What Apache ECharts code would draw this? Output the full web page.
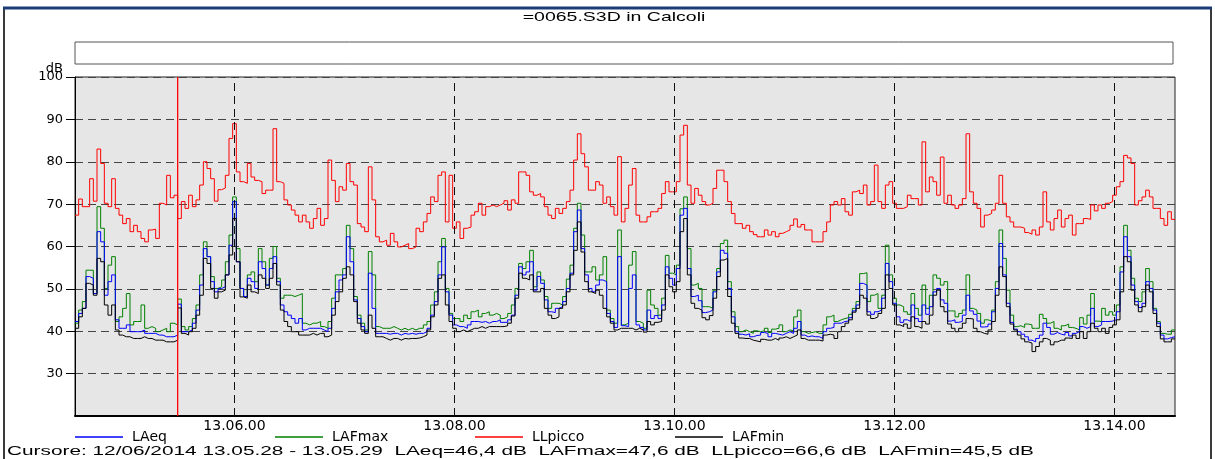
<!DOCTYPE html>
<html>
<head>
<meta charset="utf-8">
<script src="https://cdn.jsdelivr.net/npm/echarts@6/dist/echarts.min.js"></script>
<style>
html,body{margin:0;padding:0;background:#fff;}
#c{width:1215px;height:459px;}
</style>
</head>
<body>
<div id="c"></div>
<script>
// ---- data (2-second steps starting at 13.04.33) ----
const startTime = '13.04.33';
const endTime = '13.14.33';
const stepSeconds = 2;
const xTickLabels = ['13.06.00', '13.08.00', '13.10.00', '13.12.00', '13.14.00'];
const cursorTime = '13.05.29';
const seriesNames = ['LAeq', 'LAFmax', 'LLpicco', 'LAFmin'];

const LLpicco = [
67.4,71.2,69.4,69.4,76.0,70.7,83.0,79.6,70.2,69.4,
76.0,69.0,67.4,65.4,66.6,63.5,65.0,63.5,61.9,61.1,
63.9,64.1,61.9,70.2,69.8,76.8,71.5,72.1,66.6,70.6,
69.0,72.1,69.4,71.0,74.5,80.0,78.4,
76.0,70.7,73.4,73.8,76.8,85.5,89.0,77.6,75.3,74.9,
79.6,76.4,75.6,75.3,72.5,73.3,73.3,87.8,75.3,74.9,
71.0,69.8,68.6,67.4,65.8,67.4,65.8,64.3,66.6,69.0,
65.0,66.6,80.4,75.6,70.6,74.1,73.3,79.6,75.3,74.5,
65.4,64.6,63.5,78.8,71.0,62.3,61.1,61.5,60.3,63.1,
61.1,59.9,60.3,60.7,59.5,59.9,64.3,63.5,65.8,67.8,
71.7,70.6,76.8,77.6,65.8,76.8,64.3,65.8,61.9,64.3,
64.6,67.4,68.2,70.2,67.4,69.4,69.8,69.4,69.8,
70.2,70.8,68.6,71.0,70.2,77.6,77.6,76.8,72.9,72.1,
72.5,71.7,69.4,67.4,66.6,69.0,67.8,69.0,70.6,73.3,
80.4,86.6,81.9,78.8,73.3,73.3,75.3,74.5,70.2,71.7,
69.4,67.4,81.2,65.8,69.0,74.5,78.4,67.4,65.8,65.8,
67.0,68.2,68.2,69.0,72.5,75.3,72.9,72.9,75.3,86.3,
88.6,74.5,70.2,73.7,72.1,70.6,69.8,70.2,73.7,78.0,
78.0,75.3,70.6,67.8,65.4,65.4,64.3,65.0,63.5,62.8,
62.3,62.3,63.9,62.7,63.5,62.3,63.1,63.5,63.9,
65.0,66.5,64.6,65.2,63.9,63.9,61.1,61.1,61.1,63.5,
65.8,69.8,70.6,69.8,71.3,68.2,67.4,72.9,73.3,72.5,
74.5,69.8,70.6,79.2,70.6,69.0,74.5,75.3,70.2,69.0,
69.0,69.4,72.1,71.3,71.3,69.8,84.7,72.9,76.4,75.3,
72.1,81.1,70.2,72.1,69.8,69.0,69.8,71.3,86.6,72.9,
70.2,69.0,64.6,67.4,67.8,68.6,70.2,76.8,70.2,67.0,
65.8,64.6,64.6,64.3,63.3,62.9,63.9,62.7,64.6,72.9,
65.8,63.9,66.6,68.6,64.6,66.6,67.4,62.7,65.4,
65.4,66.6,66.4,69.8,68.4,69.8,69.0,70.2,70.6,72.1,
74.1,75.3,81.5,80.9,79.6,69.8,70.8,71.7,73.3,71.7,
69.0,69.0,66.6,65.0,68.2,66.4
];

const LAFmax = [
41.9,45.0,47.0,54.4,54.4,48.9,69.4,64.3,50.1,55.6,
57.6,42.3,43.4,45.4,48.9,41.5,42.3,42.3,46.2,40.7,
41.1,40.7,39.9,40.3,40.7,39.9,41.9,41.5,47.6,41.1,
40.3,41.1,43.0,46.2,53.3,61.1,57.6,
52.9,50.1,50.5,52.1,56.4,62.7,71.7,59.5,50.1,48.2,
53.3,54.0,51.7,59.5,56.4,50.9,57.2,60.0,52.5,47.8,
48.5,48.5,48.2,48.5,48.9,41.9,41.5,41.9,41.9,42.3,
41.1,40.7,42.3,47.8,53.3,53.3,54.8,65.0,59.5,48.2,
43.8,41.9,40.3,58.8,53.3,41.1,40.7,40.7,40.7,41.1,
40.7,40.3,40.7,40.3,40.7,40.3,40.7,40.7,41.5,42.3,
46.2,49.3,56.4,61.9,50.1,44.2,43.0,43.0,42.3,43.8,
43.0,44.6,45.0,43.4,44.2,44.6,43.8,44.2,43.8,
43.0,43.4,44.2,46.2,50.1,56.0,54.8,56.4,59.1,50.5,
54.0,52.1,48.2,45.4,46.6,46.6,46.2,48.2,52.3,55.6,
64.3,70.2,62.7,54.0,54.0,55.2,52.1,53.3,57.6,45.0,
43.0,41.9,63.9,41.5,41.9,55.6,58.8,42.3,41.9,40.7,
49.7,46.2,45.4,43.8,47.8,57.9,53.7,53.3,55.6,68.9,
71.7,59.5,50.9,51.3,50.1,45.8,45.8,45.4,49.7,54.8,
60.7,61.5,51.7,44.6,41.1,39.9,40.3,39.9,39.5,40.1,
39.9,40.1,40.7,39.7,40.5,40.7,41.5,39.9,40.3,
40.1,43.4,45.0,39.9,39.5,39.7,39.9,39.5,39.5,41.5,
43.4,43.8,42.3,42.7,43.0,43.2,44.0,45.4,47.0,53.6,
53.8,47.0,48.5,48.9,45.4,48.5,60.3,53.3,47.8,46.2,
45.8,44.6,44.0,48.9,45.4,43.8,50.9,45.4,48.5,53.3,
52.5,50.9,51.7,44.8,44.8,43.4,44.2,45.0,53.3,45.4,
45.0,44.2,41.9,42.7,42.4,45.0,51.7,63.9,57.2,49.7,
43.8,41.1,41.3,40.9,41.7,41.5,40.7,40.7,44.0,43.0,
41.9,42.3,40.7,40.3,41.3,41.7,40.9,40.7,40.3,
43.2,41.7,43.8,48.9,42.4,42.3,45.4,43.8,44.6,43.8,
46.2,55.2,65.0,59.1,52.5,47.8,47.0,49.3,54.8,51.7,
45.4,42.3,39.5,39.3,39.3,40.3
];

const LAeq = [
42.3,44.2,45.4,52.9,52.5,48.9,63.5,61.1,48.5,51.7,
53.3,42.7,40.7,40.7,41.5,39.9,39.9,39.9,40.3,39.5,
39.5,39.5,39.1,39.1,38.7,38.7,38.7,39.1,46.4,39.9,
39.9,40.3,41.9,45.0,50.9,59.5,57.6,
51.7,49.3,50.1,50.5,53.3,60.3,70.6,56.4,50.1,48.2,
52.5,51.7,50.1,56.4,54.8,50.9,54.8,57.6,51.7,46.2,
44.6,43.8,43.0,41.9,43.0,40.3,40.7,40.7,40.7,40.7,
40.3,39.9,40.7,45.4,49.3,52.1,53.3,62.3,56.4,47.4,
43.0,41.1,39.9,53.7,45.4,39.5,39.5,39.5,39.3,39.5,
39.5,39.1,39.5,39.3,39.5,39.3,39.5,39.5,39.9,40.7,
43.8,47.0,53.3,59.9,49.3,43.8,41.5,41.1,41.1,40.7,
41.5,42.3,42.3,42.1,42.3,41.9,42.3,42.3,42.7,
42.1,42.1,42.7,43.8,48.5,55.2,53.3,54.0,56.4,49.7,
52.9,51.3,47.4,44.6,44.4,45.4,45.8,47.0,50.1,53.7,
63.5,68.6,59.5,53.3,50.1,49.3,50.9,52.1,51.7,44.2,
42.3,40.9,57.6,41.3,41.1,50.1,53.3,41.5,40.9,40.3,
45.0,43.0,43.7,43.0,46.2,55.2,52.5,50.9,54.8,67.4,
69.0,54.8,48.2,48.5,47.2,44.4,44.6,45.0,49.3,54.0,
59.1,58.4,50.1,43.4,39.9,39.3,39.1,39.4,38.7,39.0,
39.1,39.7,39.5,38.7,39.5,39.3,39.1,39.5,39.9,
39.5,40.7,42.3,39.1,38.7,38.9,38.7,38.7,38.3,39.9,
40.7,40.9,41.9,41.9,42.3,42.4,43.2,44.8,46.2,51.3,
50.9,44.6,44.0,44.6,45.0,47.8,56.0,51.7,46.6,43.4,
42.1,42.7,42.3,46.2,43.0,42.3,46.2,44.0,45.8,49.3,
50.1,47.4,46.6,42.4,42.7,42.1,42.3,43.8,48.5,44.8,
44.0,42.4,41.0,41.1,41.7,44.6,50.1,60.7,53.3,46.6,
42.1,40.5,39.9,39.3,38.7,37.9,37.5,38.3,39.1,41.9,
40.9,39.3,39.7,39.3,39.1,39.7,38.9,39.5,39.9,
41.1,40.7,41.1,45.4,41.1,41.5,42.3,42.3,42.4,42.7,
44.6,54.0,62.3,57.6,50.9,47.0,45.6,46.6,51.7,50.1,
45.0,41.9,39.1,38.2,38.5,38.7
];

const LAFmin = [
40.7,43.4,45.4,51.3,50.9,48.5,57.2,56.4,46.2,43.8,
46.2,40.3,39.1,38.7,38.7,38.3,38.3,38.3,38.7,38.3,
38.3,37.9,37.9,37.9,37.5,37.5,37.5,37.9,45.5,39.5,
39.1,39.9,40.7,43.8,48.5,57.2,56.0,
50.1,47.8,49.3,49.7,53.3,58.0,66.6,56.4,48.1,47.8,
50.9,49.3,48.9,53.3,52.5,50.1,52.5,56.0,50.9,45.0,
42.3,41.1,39.9,39.9,39.1,39.1,39.1,39.5,39.1,39.5,
39.5,38.7,39.1,43.8,47.0,49.3,52.5,55.2,53.3,47.0,
41.9,40.3,39.5,43.8,40.7,38.7,38.7,38.3,37.9,38.3,
38.3,37.9,38.3,38.2,38.3,38.3,38.4,38.7,39.1,40.3,
43.4,46.2,52.5,53.3,46.2,42.3,40.7,39.9,40.3,39.9,
40.3,40.7,40.7,41.1,40.7,41.1,41.1,41.1,41.1,
41.1,41.3,41.9,43.6,47.8,53.7,52.5,52.1,53.3,49.3,
49.3,50.1,45.4,43.8,43.0,43.4,45.4,46.2,49.3,53.3,
59.1,65.8,58.7,51.7,49.3,48.9,49.7,48.5,45.4,43.4,
41.9,40.3,40.7,40.7,40.7,40.7,40.3,40.7,40.3,39.8,
42.3,41.5,42.1,42.3,45.0,53.3,50.5,49.3,51.7,63.5,
66.6,53.3,46.6,45.4,45.0,43.2,42.7,43.7,47.8,52.9,
56.8,57.2,48.2,41.9,39.5,38.4,38.3,38.3,37.9,37.7,
37.5,38.1,37.9,37.9,38.3,37.9,38.4,38.7,38.3,
38.7,39.1,40.3,38.3,37.9,37.9,37.9,37.9,37.7,39.1,
39.3,39.1,38.3,39.9,41.1,41.9,42.7,44.5,45.4,48.5,
47.8,43.8,43.0,43.4,44.2,45.4,53.3,50.1,46.2,41.5,
41.1,41.7,40.7,43.4,41.1,40.7,42.3,41.7,43.8,48.5,
49.7,45.8,44.6,41.7,40.7,39.9,40.7,41.9,43.0,42.9,
40.7,39.9,39.5,39.3,40.3,42.3,48.5,55.2,52.9,45.8,
41.7,40.3,39.1,38.2,37.5,37.2,35.2,36.4,37.5,38.3,
37.9,36.8,37.5,37.9,37.9,38.4,38.3,39.1,38.3,
39.9,38.3,39.9,41.9,40.7,39.9,40.7,39.5,40.9,41.5,
42.7,49.3,57.6,56.4,49.7,46.2,44.6,45.8,50.9,49.3,
44.2,41.1,38.2,37.5,37.5,38.2
];

const cursorText = 'Cursore: 12/06/2014 13.05.28 - 13.05.29  LAeq=46,4 dB  LAFmax=47,6 dB  LLpicco=66,6 dB  LAFmin=45,5 dB';
const chartTitle = '=0065.S3D in Calcoli';
const yMin = 20, yMax = 100, yStep = 10;

// ---- helpers ----
function toSec(s) {
  const p = s.split('.').map(Number);
  return (p[0] - 13) * 3600 + p[1] * 60 + p[2];
}
function fmt(v) {
  const h = 13 + Math.floor(v / 3600);
  const m = Math.floor((v % 3600) / 60);
  const s = Math.round(v % 60);
  const pad = n => (n < 10 ? '0' : '') + n;
  return h + '.' + pad(m) + '.' + pad(s);
}
const t0 = toSec(startTime);
const t1 = toSec(endTime);
function pairs(arr) {
  const d = arr.map((v, i) => [t0 + i * stepSeconds, v]);
  d.push([t0 + arr.length * stepSeconds, arr[arr.length - 1]]);
  return d;
}
const tickSecs = xTickLabels.map(toSec);
const cursorSec = toSec(cursorTime);

const colors = { LAeq: '#0000ff', LAFmax: '#008000', LLpicco: '#ff0000', LAFmin: '#000000' };
const values = { LAeq, LAFmax, LLpicco, LAFmin };
const FONT = 'DejaVu Sans';

function lineSeries(name, z, extra) {
  return Object.assign({
    name: name,
    type: 'line',
    step: 'end',
    data: pairs(values[name]),
    showSymbol: false,
    symbol: 'none',
    silent: true,
    z: z,
    lineStyle: { color: colors[name], width: 1 },
    itemStyle: { color: colors[name] }
  }, extra || {});
}

const chart = echarts.init(document.getElementById('c'), null, { renderer: 'canvas' });

const legendLefts = [75, 275, 475, 675];

chart.setOption({
  animation: false,
  backgroundColor: '#ffffff',
  textStyle: { fontFamily: FONT },
  grid: {
    left: 75, right: 40, top: 77, height: 339,
    show: true, backgroundColor: '#e6e6e6', borderColor: '#222', borderWidth: 1
  },
  legend: seriesNames.map((n, i) => ({
    data: [n],
    left: legendLefts[i],
    top: 430,
    padding: 0,
    icon: 'rect',
    itemWidth: 48,
    itemHeight: 1.5,
    itemGap: 0,
    selectedMode: false,
    textStyle: { fontFamily: FONT, fontSize: 14, color: '#000', padding: [0, 0, 0, 4] }
  })),
  xAxis: {
    type: 'value',
    min: t0,
    max: t1,
    axisLine: { show: true, onZero: false, lineStyle: { color: '#000', width: 2 } },
    axisTick: { show: false },
    splitLine: { show: false },
    axisLabel: {
      customValues: tickSecs,
      formatter: v => fmt(v),
      fontFamily: FONT, fontSize: 14, color: '#000', margin: 3
    }
  },
  yAxis: {
    type: 'value',
    min: yMin, max: yMax, interval: yStep,
    axisLine: { show: true, lineStyle: { color: '#000', width: 1 } },
    axisTick: { show: true, length: 9, lineStyle: { color: '#000' } },
    axisLabel: {
      showMinLabel: false,
      fontFamily: FONT, fontSize: 13, color: '#000', margin: 12
    },
    splitLine: { show: true, lineStyle: { color: '#444', width: 1, type: [8, 5] } }
  },
  series: [
    lineSeries('LAFmax', 2),
    lineSeries('LAeq', 3, {
      markLine: {
        silent: true, symbol: 'none', animation: false,
        label: { show: false },
        lineStyle: { color: '#111', width: 1, type: [8, 5] },
        data: tickSecs.map(v => ({ xAxis: v }))
      }
    }),
    lineSeries('LLpicco', 4),
    lineSeries('LAFmin', 5),
    {
      name: 'Cursore',
      type: 'line',
      data: [[cursorSec, yMin], [cursorSec, yMax]],
      showSymbol: false,
      symbol: 'none',
      silent: true,
      z: 6,
      lineStyle: { color: '#ff0000', width: 1.3 },
      itemStyle: { color: '#ff0000' }
    }
  ],
  graphic: [
    { type: 'rect', shape: { x: 4, y: 8, width: 1207, height: 470 }, style: { fill: 'none', stroke: '#3a3a3a', lineWidth: 2 }, silent: true, z: 100 },
    { type: 'line', shape: { x1: 3, y1: 8, x2: 1212, y2: 8 }, style: { stroke: '#1d3b78', lineWidth: 3 }, silent: true, z: 101 },
    { type: 'rect', shape: { x: 75, y: 42, width: 1098, height: 22 }, style: { fill: '#fff', stroke: '#555', lineWidth: 1 }, silent: true },
    { type: 'text', x: 614, y: 11, scaleX: 1.5, style: { text: chartTitle, font: '13px "Liberation Sans"', fill: '#000', textAlign: 'center', textVerticalAlign: 'top' }, silent: true },
    { type: 'text', x: 63, y: 62, style: { text: 'dB', font: '13px "DejaVu Sans"', fill: '#000', textAlign: 'right', textVerticalAlign: 'top' }, silent: true },
    { type: 'text', x: 7, y: 445, scaleX: 1.6, style: { text: cursorText, font: '13px "Liberation Sans"', fill: '#000', textAlign: 'left', textVerticalAlign: 'top' }, silent: true }
  ]
});
</script>
</body>
</html>
